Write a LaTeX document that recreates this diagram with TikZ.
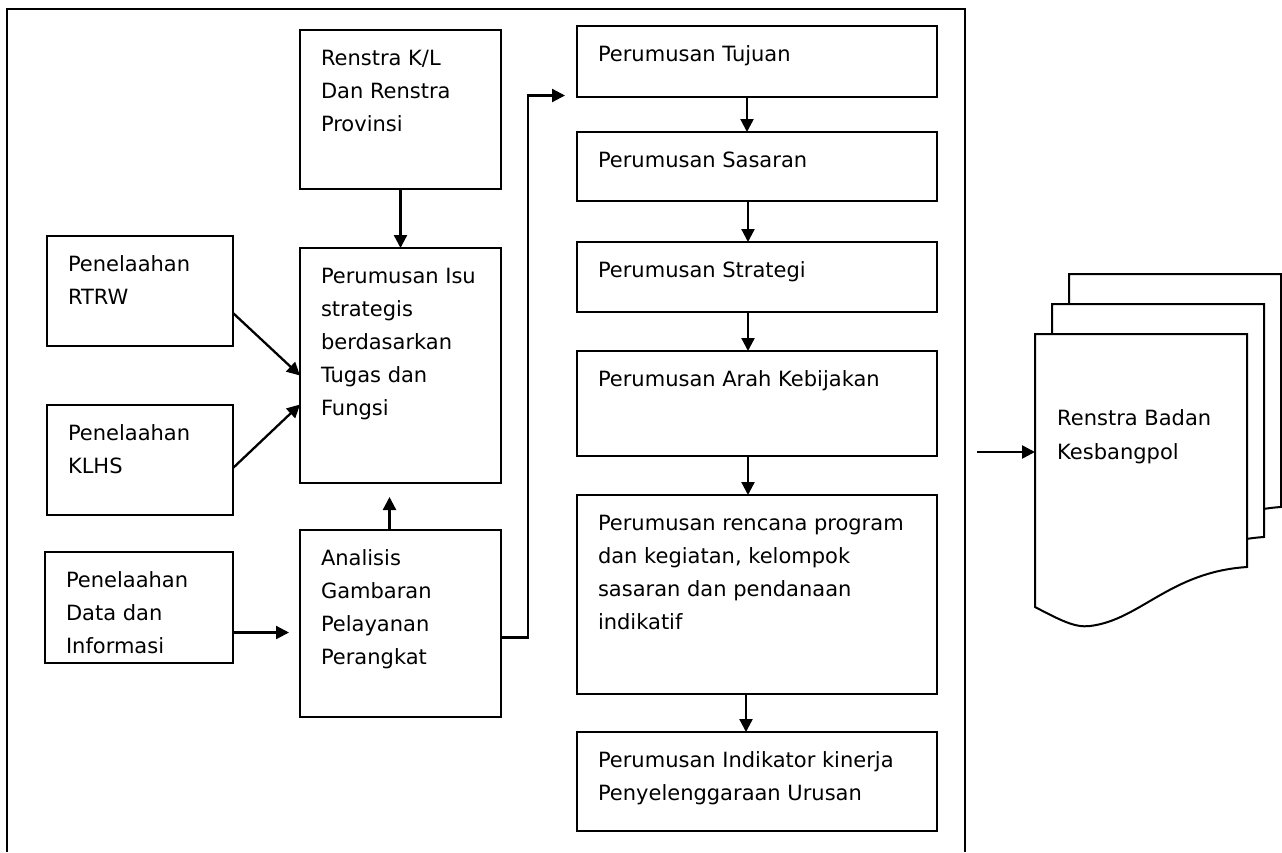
\documentclass[tikz,border=0pt]{standalone}
\usepackage{fontspec}
\setmainfont{DejaVu Sans}
\usetikzlibrary{arrows.meta, positioning}

\newcommand{\isi}[3]{\parbox[t][#2][t]{#1}{\raggedright\leftskip=21pt\rule{0pt}{35pt}#3}}

\begin{document}
\begin{tikzpicture}[
    x=1pt, y=-1pt,
    blok/.style={draw, line width=2.3pt, anchor=north west, inner sep=0pt, outer sep=0pt, font=\fontsize{21}{33}\selectfont},
    panah/.style={-{Triangle[length=13pt, width=13pt]}, line width=2.3pt},
    halaman/.style={draw, line width=2pt, fill=white}
]
\useasboundingbox (0,0) rectangle (1282,852);

% bingkai
\draw[line width=2.3pt] (7,852) -- (7,9) -- (965,9) -- (965,852);

% KOLOM KIRI
\node[blok] (rtrw) at (47,236) {\isi{186pt}{110pt}{Penelaahan\\RTRW}};
\node[blok, below=59pt of rtrw] (klhs) {\isi{186pt}{110pt}{Penelaahan\\KLHS}};
\node[blok] (data) at (45,552) {\isi{188pt}{111pt}{Penelaahan\\Data dan\\Informasi}};

% KOLOM TENGAH
\node[blok] (renstra) at (300,30) {\isi{201pt}{159pt}{Renstra K/L\\Dan Renstra\\Provinsi}};
\node[blok, below=59pt of renstra] (isu) {\isi{201pt}{235pt}{Perumusan Isu\\strategis\\berdasarkan\\Tugas dan\\Fungsi}};
\node[blok, below=47pt of isu] (analisis) {\isi{201pt}{187pt}{Analisis\\Gambaran\\Pelayanan\\Perangkat}};

% KOLOM KANAN
\node[blok] (tujuan) at (577,26) {\isi{360pt}{71pt}{Perumusan Tujuan}};
\node[blok, below=35pt of tujuan] (sasaran) {\isi{360pt}{69pt}{Perumusan Sasaran}};
\node[blok, below=41pt of sasaran] (strategi) {\isi{360pt}{70pt}{Perumusan Strategi}};
\node[blok, below=39pt of strategi] (arah) {\isi{360pt}{105pt}{Perumusan Arah Kebijakan}};
\node[blok, below=39pt of arah] (rencana) {\isi{360pt}{199pt}{Perumusan rencana program\\dan kegiatan, kelompok\\sasaran dan pendanaan\\indikatif}};
\node[blok, below=38pt of rencana] (indikator) {\isi{360pt}{99pt}{Perumusan Indikator kinerja\\Penyelenggaraan Urusan}};

% DOKUMEN
\foreach \dx/\dy in {34/-60, 17/-30, 0/0} {
    \draw[halaman, shift={(\dx,\dy)}] (1035,334) -- (1247,334) -- (1247,567)
        .. controls (1170,572) and (1140,620) .. (1090,626)
        .. controls (1075,628) and (1060,620) .. (1035,607) -- cycle;
}
\node[anchor=north west, inner sep=0pt, font=\fontsize{21}{34}\selectfont] (kesbangpol) at (1057,334)
    {\parbox[t]{190pt}{\rule{0pt}{91pt}Renstra Badan\\Kesbangpol}};
\coordinate (masuk) at (977,452);
\coordinate (dokumen) at (1035,452);

% Connections
\draw[panah] ([yshift=-22pt]rtrw.east) -- ([yshift=-10pt]isu.west);
\draw[panah] ([yshift=-8pt]klhs.east) -- ([yshift=-39pt]isu.west);
\draw[panah, shorten >=11pt] ([yshift=-25pt]data.east) -- ([yshift=-25pt]data.east -| analisis.west);
\draw[panah] (renstra) -- (isu);
\draw[panah, shorten >=14pt] ([xshift=-11pt]analisis.north) -- ([xshift=-11pt]isu.south);
\draw[panah, shorten >=12pt] ([yshift=-14pt]analisis.east) -- ++(27pt,0) |- ([yshift=-34pt]tujuan.west);
\draw[panah] ([xshift=-10pt]tujuan.south) -- ([xshift=-10pt]sasaran.north);
\draw[panah] ([xshift=-9pt]sasaran.south) -- ([xshift=-9pt]strategi.north);
\draw[panah] ([xshift=-9pt]strategi.south) -- ([xshift=-9pt]arah.north);
\draw[panah] ([xshift=-9pt]arah.south) -- ([xshift=-9pt]rencana.north);
\draw[panah] ([xshift=-11pt]rencana.south) -- ([xshift=-11pt]indikator.north);
\draw[panah] (masuk) -- (dokumen);

\end{tikzpicture}
\end{document}
